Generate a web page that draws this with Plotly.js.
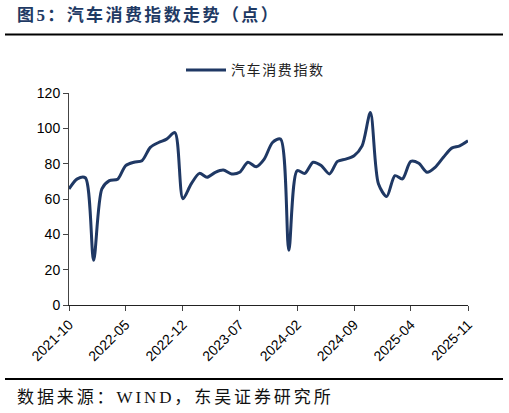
<!DOCTYPE html>
<html>
<head>
<meta charset="utf-8">
<script src="https://cdn.plot.ly/plotly-3.0.1.min.js"></script>
<style>html,body{margin:0;padding:0;background:#fff;}#chart{width:509px;height:413px;}
.legendtext{letter-spacing:1.6px;}</style>
</head>
<body>
<div id="chart"></div>
<script>
var months = ["2021-10","2021-11","2021-12","2022-01","2022-02","2022-03","2022-04","2022-05","2022-06","2022-07","2022-08","2022-09","2022-10","2022-11","2022-12",
"2023-01","2023-02","2023-03","2023-04","2023-05","2023-06","2023-07","2023-08","2023-09","2023-10","2023-11","2023-12",
"2024-01","2024-02","2024-03","2024-04","2024-05","2024-06","2024-07","2024-08","2024-09","2024-10","2024-11","2024-12",
"2025-01","2025-02","2025-03","2025-04","2025-05","2025-06","2025-07","2025-08","2025-09","2025-10","2025-11"];
var autoIndex = [65.7,71.4,72.0,25.3,65.7,70.4,71.2,78.9,80.8,81.7,89.2,92.0,93.9,97.6,60.1,
68.6,74.5,72.3,75.1,76.4,74.2,75.1,80.8,78.3,82.6,92.0,93.9,
31.0,76.0,74.5,80.8,78.9,74.2,81.3,82.6,84.5,90.1,108.9,68.6,
61.4,73.2,71.4,81.3,80.2,75.1,77.9,83.6,88.8,90.1,93.0];
var tickMonths = ["2021-10","2022-05","2022-12","2023-07","2024-02","2024-09","2025-04","2025-11"];
var seriesName = "汽车消费指数";
var titleText = "图5：汽车消费指数走势（点）";
var sourceText = "数据来源：WIND，东吴证券研究所";

var W = 509, H = 413;
var L = 69, R = 468, T = 92.7, B = 305;
var pw = R - L, ph = B - T;
function px(x){ return (x - L) / pw; }
function py(y){ return (B - y) / ph; }

var trace = {
  x: months.map(function(m){ return m + "-01"; }),
  y: autoIndex,
  type: "scatter",
  mode: "lines",
  name: seriesName,
  line: {color: "#1F3864", width: 3, shape: "spline", smoothing: 0.8}
};

var axisFont = {family: "Liberation Sans, Arial, sans-serif", size: 14, color: "#000"};

var layout = {
  width: W, height: H,
  margin: {l: L, r: W - R, t: T, b: H - B, pad: 0},
  paper_bgcolor: "#fff", plot_bgcolor: "#fff",
  showlegend: true,
  legend: {orientation: "h", x: px(181), xanchor: "left", y: py(70), yanchor: "middle", itemwidth: 40,
    font: {family: "Noto Sans CJK SC", size: 14, color: "#222"}, bgcolor: "rgba(0,0,0,0)"},
  xaxis: {
    type: "date",
    range: ["2021-10-01", "2025-11-01"],
    tickvals: tickMonths.map(function(m){ return m + "-01"; }),
    ticktext: tickMonths,
    tickangle: -45,
    ticks: "outside", ticklen: 5, tickcolor: "#444",
    showline: true, linecolor: "#222", linewidth: 1,
    showgrid: false, zeroline: false,
    tickfont: axisFont
  },
  yaxis: {
    range: [0, 120], dtick: 20, tick0: 0,
    ticks: "outside", ticklen: 5, tickcolor: "#444",
    showline: true, linecolor: "#444", linewidth: 1,
    showgrid: false, zeroline: false,
    tickfont: axisFont
  },
  shapes: [
    {type: "line", xref: "paper", yref: "paper", x0: px(5), x1: px(503), y0: py(34), y1: py(34), line: {color: "#000", width: 2}},
    {type: "line", xref: "paper", yref: "paper", x0: px(5), x1: px(503), y0: py(379), y1: py(379), line: {color: "#000", width: 2}}
  ],
  annotations: [
    {xref: "paper", yref: "paper", x: px(16), y: py(15), xanchor: "left", yanchor: "middle", showarrow: false,
     text: "<b>" + titleText + "</b>", font: {family: "Liberation Serif, Noto Sans CJK SC", size: 17, color: "#1F3A64"}},
    {xref: "paper", yref: "paper", x: px(16), y: py(398), xanchor: "left", yanchor: "middle", showarrow: false,
     text: sourceText, font: {family: "Liberation Serif, Noto Sans CJK SC", size: 17, color: "#111"}}
  ]
};

var spacing = ["2.4px", "2.9px"];
var leftEdge = [17, 17];

Plotly.newPlot("chart", [trace], layout, {displayModeBar: false, staticPlot: true}).then(function(gd){
  var host = gd.getBoundingClientRect();
  var texts = gd.querySelectorAll("g.annotation text.annotation-text");
  texts.forEach(function(t, i){
    t.style.letterSpacing = spacing[i];
    var r = t.getBoundingClientRect();
    var dx = leftEdge[i] - (r.left - host.left);
    var tr = t.getAttribute("transform") || "";
    t.setAttribute("transform", "translate(" + dx + ",0) " + tr);
  });
});
</script>
</body>
</html>
